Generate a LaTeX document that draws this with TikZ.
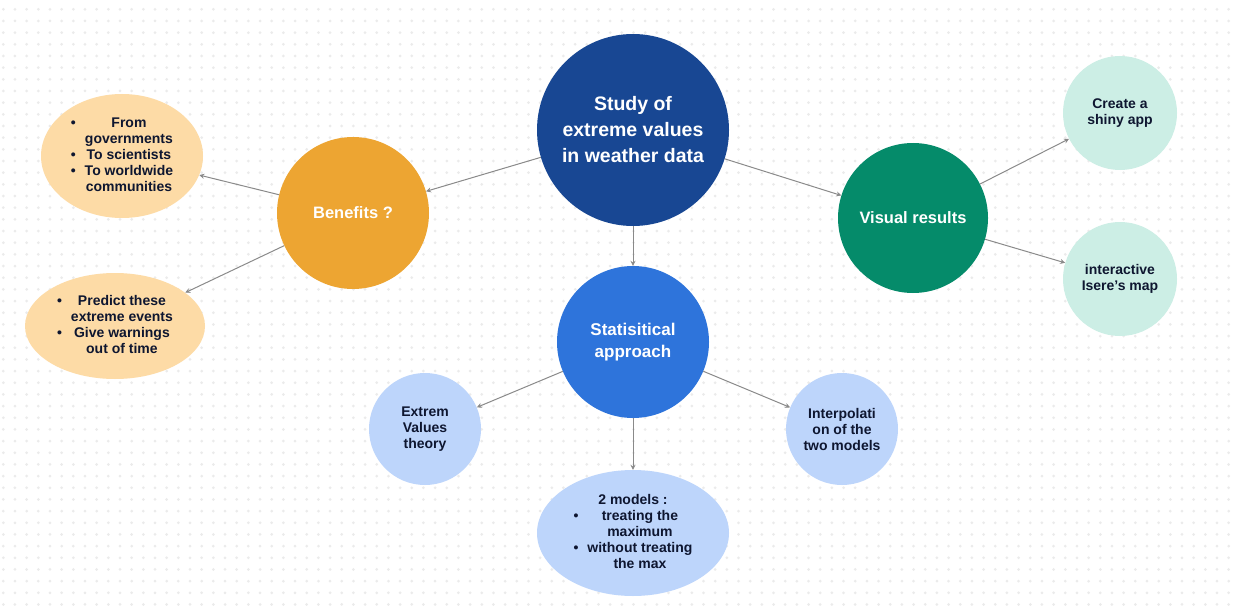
\documentclass[tikz,border=0pt]{standalone}
\usepackage{fontspec}
\setmainfont{Liberation Sans}
\usetikzlibrary{arrows.meta,shapes.geometric}
\definecolor{dotc}{HTML}{EBEBEB}
\definecolor{darkblue}{HTML}{184793}
\definecolor{orangec}{HTML}{EDA532}
\definecolor{midblue}{HTML}{2E74DB}
\definecolor{greenc}{HTML}{058B6A}
\definecolor{lightorange}{HTML}{FDDBA6}
\definecolor{lightblue}{HTML}{BDD5FB}
\definecolor{lightgreen}{HTML}{CCEEE5}
\definecolor{txtdark}{HTML}{0E1630}
\definecolor{arrowgray}{HTML}{8A8A8A}
\tikzset{
  bubble/.style={circle, inner sep=0pt, draw=none, align=center, font=\bfseries},
  oval/.style={ellipse, inner sep=0pt, draw=none, align=center, font=\bfseries},
  smalltxt/.style={text=txtdark, font=\bfseries\fontsize{14}{16}\selectfont},
  arr/.style={draw=arrowgray, line width=1pt, -{Stealth[length=5pt,width=5pt]}}
}
\begin{document}
\begin{tikzpicture}[x=1pt,y=-1pt]
\useasboundingbox (0,0) rectangle (1239,607);
\fill[white] (0,0) rectangle (1239,607);
\foreach \i in {0,...,105}{
  \foreach \j in {0,...,51}{
    \fill[dotc] (3.3+11.67*\i, 9.3+11.67*\j) circle (1.5pt);
  }
}
% main nodes
\node[bubble, fill=darkblue, minimum size=192pt, text=white,
      font=\bfseries\fontsize{19.5}{26}\selectfont] (study) at (633,130)
      {Study of\\extreme values\\in weather data};
\node[bubble, fill=orangec, minimum size=152pt, text=white,
      font=\bfseries\fontsize{16.5}{20}\selectfont] (benefits) at (353,213) {Benefits ?};
\node[bubble, fill=midblue, minimum size=152pt, text=white,
      font=\bfseries\fontsize{17}{22}\selectfont] (stat) at (633,342) {Statisitical\\approach};
\node[bubble, fill=greenc, minimum size=150pt, text=white,
      font=\bfseries\fontsize{16.5}{20}\selectfont] (visual) at (913,218) {Visual results};
% benefits children
\node[oval, fill=lightorange, minimum width=162pt, minimum height=124pt, smalltxt] (gov) at (122,156)
  {\begin{tabular}{@{}c@{\hspace{9pt}}c@{}}
   • & From\\ & governments\\ • & To scientists\\ • & To worldwide\\ & communities
   \end{tabular}};
\node[oval, fill=lightorange, minimum width=180pt, minimum height=106pt, smalltxt] (predict) at (115,326)
  {\begin{tabular}{@{}c@{\hspace{9pt}}c@{}}
   • & Predict these\\ & extreme events\\ • & Give warnings\\ & out of time
   \end{tabular}};
% stat children
\node[bubble, fill=lightblue, minimum size=112pt, smalltxt] (evt) at (425,429) {Extrem\\Values\\theory};
\node[bubble, fill=lightblue, minimum size=112pt, smalltxt] (interp) at (842,429) {Interpolati\\on of the\\two models};
\node[oval, fill=lightblue, minimum width=192pt, minimum height=126pt, smalltxt] (models) at (633,533)
  {\begin{tabular}{@{}c@{\hspace{9pt}}c@{}}
   \multicolumn{2}{c}{2 models :}\\
   • & treating the\\ & maximum\\ • & without treating\\ & the max
   \end{tabular}};
% visual children
\node[bubble, fill=lightgreen, minimum size=114pt, smalltxt] (shiny) at (1120,113) {Create a\\shiny app};
\node[bubble, fill=lightgreen, minimum size=114pt, smalltxt] (map) at (1120,279) {interactive\\Isere’s map};
% connectors
\draw[arr] (study) -- (benefits);
\draw[arr] (study) -- (visual);
\draw[arr] (study) -- (stat);
\draw[arr] (benefits) -- (gov);
\draw[arr] (benefits) -- (predict);
\draw[arr] (stat) -- (evt);
\draw[arr] (stat) -- (interp);
\draw[arr] (stat) -- (models);
\draw[arr] (visual) -- (shiny);
\draw[arr] (visual) -- (map);
\end{tikzpicture}
\end{document}
